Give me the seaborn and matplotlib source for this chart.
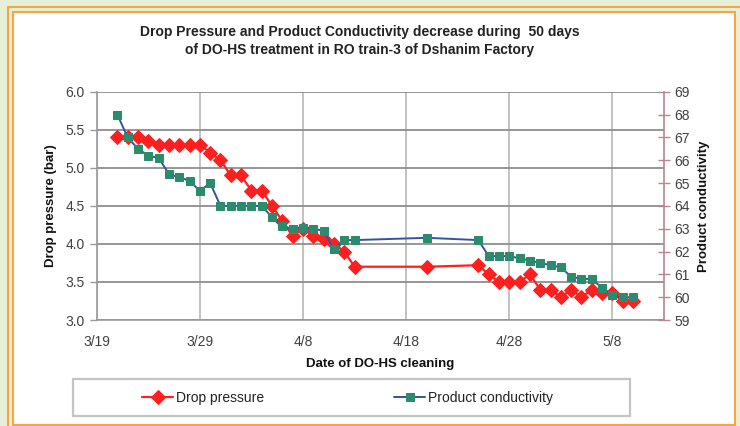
import matplotlib
matplotlib.use("Agg")
import matplotlib.pyplot as plt
from matplotlib.patches import Rectangle
from matplotlib.lines import Line2D
import seaborn as sns
import pandas as pd

# ---- data ----
dates = ["2008-03-21", "2008-03-22", "2008-03-23", "2008-03-24", "2008-03-25",
         "2008-03-26", "2008-03-27", "2008-03-28", "2008-03-29", "2008-03-30",
         "2008-03-31", "2008-04-01", "2008-04-02", "2008-04-03", "2008-04-04",
         "2008-04-05", "2008-04-06", "2008-04-07", "2008-04-08", "2008-04-09",
         "2008-04-10", "2008-04-11", "2008-04-12", "2008-04-13", "2008-04-20",
         "2008-04-25", "2008-04-26", "2008-04-27", "2008-04-28", "2008-04-29",
         "2008-04-30", "2008-05-01", "2008-05-02", "2008-05-03", "2008-05-04",
         "2008-05-05", "2008-05-06", "2008-05-07", "2008-05-08", "2008-05-09",
         "2008-05-10"]
drop_pressure = [5.4, 5.4, 5.4, 5.35, 5.3, 5.3, 5.3, 5.3, 5.3, 5.2,
                 5.1, 4.9, 4.9, 4.7, 4.7, 4.5, 4.3, 4.1, 4.2, 4.1,
                 4.07, 4.0, 3.9, 3.7, 3.7, 3.72, 3.6, 3.5, 3.5, 3.5,
                 3.6, 3.4, 3.4, 3.3, 3.4, 3.3, 3.4, 3.35, 3.35, 3.25,
                 3.25]
conductivity = [68.0, 67.0, 66.5, 66.2, 66.1, 65.4, 65.25, 65.1, 64.65, 65.0,
                64.0, 64.0, 64.0, 64.0, 64.0, 63.5, 63.1, 63.0, 63.05, 63.0,
                62.9, 62.1, 62.5, 62.5, 62.6, 62.5, 61.8, 61.8, 61.8, 61.7,
                61.6, 61.5, 61.4, 61.3, 60.9, 60.8, 60.8, 60.4, 60.1, 60.0,
                60.0]
tick_dates = ["2008-03-19", "2008-03-29", "2008-04-08", "2008-04-18",
              "2008-04-28", "2008-05-08"]
tick_labels = ["3/19", "3/29", "4/8", "4/18", "4/28", "5/8"]
x_limits = ["2008-03-19", "2008-05-13"]
left_ticks = [3.0, 3.5, 4.0, 4.5, 5.0, 5.5, 6.0]
right_ticks = [59, 60, 61, 62, 63, 64, 65, 66, 67, 68, 69]
title_text = ("Drop Pressure and Product Conductivity decrease during  50 days\n"
              "of DO-HS treatment in RO train-3 of Dshanim Factory")

df = pd.DataFrame({"date": pd.to_datetime(dates),
                   "pressure": drop_pressure,
                   "cond": conductivity})

sns.set_style("white")
plt.rcParams["font.family"] = ["Liberation Sans", "DejaVu Sans"]

W, H = 740, 426
fig = plt.figure(figsize=(W / 100, H / 100), dpi=100)
fig.patch.set_facecolor("#e6f0d9")

ORANGE = "#f6a545"
# outer bevel lines
fig.add_artist(Line2D([8 / W, 8 / W], [0, 1 - 7 / H], transform=fig.transFigure,
                      color=ORANGE, lw=1.5))
fig.add_artist(Line2D([8 / W, 1], [1 - 7 / H, 1 - 7 / H], transform=fig.transFigure,
                      color=ORANGE, lw=1.5))
# inner white panel
fig.add_artist(Rectangle((13 / W, 1 - 425 / H), (735 - 13) / W, (425 - 12) / H,
                         transform=fig.transFigure, facecolor="white",
                         edgecolor=ORANGE, lw=1.5, zorder=0))

left_px, right_px, top_px, bottom_px = 96.7, 664, 91.7, 320
ax = fig.add_axes([left_px / W, 1 - bottom_px / H, (right_px - left_px) / W,
                   (bottom_px - top_px) / H])
ax.set_facecolor("none")
ax2 = ax.twinx()

RED = "#ff1f1f"
GREEN = "#2a8c6c"
BLUE = "#3553a3"

sns.lineplot(data=df, x="date", y="pressure", ax=ax, color=RED, marker="D",
             markersize=7, markeredgecolor=RED, linewidth=1.6, label="Drop pressure",
             legend=False)
sns.lineplot(data=df, x="date", y="cond", ax=ax2, color=BLUE, marker="s",
             markersize=6, markerfacecolor=GREEN, markeredgecolor=GREEN,
             linewidth=1.4, label="Product conductivity", legend=False)

ax.set_xlim(pd.to_datetime(x_limits[0]), pd.to_datetime(x_limits[1]))
ax.set_ylim(3.0, 6.0)
ax2.set_ylim(59, 69)
ax.set_xticks(pd.to_datetime(tick_dates))
ax.set_xticklabels(tick_labels)
ax.set_yticks(left_ticks)
ax.set_yticklabels([f"{v:.1f}" for v in left_ticks])
ax2.set_yticks(right_ticks)

ax.yaxis.grid(True, color="#8e8e8e", lw=1.3)
ax.xaxis.grid(True, color="#b8b8b8", lw=1.2)
ax.set_axisbelow(True)

ax.spines["top"].set_visible(False)
ax2.spines["top"].set_visible(False)
ax.spines["right"].set_visible(False)
ax2.spines["left"].set_visible(False)
ax2.spines["bottom"].set_visible(False)
for s in ["left", "bottom"]:
    ax.spines[s].set_color("#999999")
    ax.spines[s].set_linewidth(1.2)
ax2.spines["right"].set_color("#b88592")
ax2.spines["right"].set_linewidth(1.2)

ax.tick_params(axis="both", colors="#999999", labelcolor="#404040",
               labelsize=10, length=5, width=1, direction="out")
ax.tick_params(axis="x", pad=6)
ax2.tick_params(axis="y", colors="#b88592", labelcolor="#404040", labelsize=10,
                length=8, width=1, direction="inout")

ax.set_xlabel("Date of DO-HS cleaning", fontsize=9.5, fontweight="bold",
              color="#111111", labelpad=6)
ax.set_ylabel("Drop pressure (bar)", fontsize=9.5, fontweight="bold",
              color="#111111", labelpad=6)
ax2.set_ylabel("Product conductivity", fontsize=9.5, fontweight="bold",
               color="#111111", labelpad=6)

fig.text(360 / W, 1 - 41 / H, title_text, ha="center", va="center",
         fontsize=10, fontweight="bold", color="#222222", linespacing=1.35)

# legend box
fig.add_artist(Rectangle((73 / W, 1 - 416 / H), (630 - 73) / W, (416 - 379) / H,
                         transform=fig.transFigure, facecolor="white",
                         edgecolor="#c4c4c4", lw=1.6, zorder=1))
h1, l1 = ax.get_legend_handles_labels()
h2, l2 = ax2.get_legend_handles_labels()
leg = fig.legend(h1 + h2, l1 + l2, loc="center",
                 bbox_to_anchor=((137 + 558) / 2 / W, 1 - 398 / H),
                 ncol=2, frameon=False, fontsize=10, handlelength=2.2,
                 handletextpad=0.2, columnspacing=9.4, borderpad=0)
for t in leg.get_texts():
    t.set_color("#222222")
leg.set_zorder(2)

fig.savefig("out.png", dpi=100, facecolor=fig.get_facecolor())
